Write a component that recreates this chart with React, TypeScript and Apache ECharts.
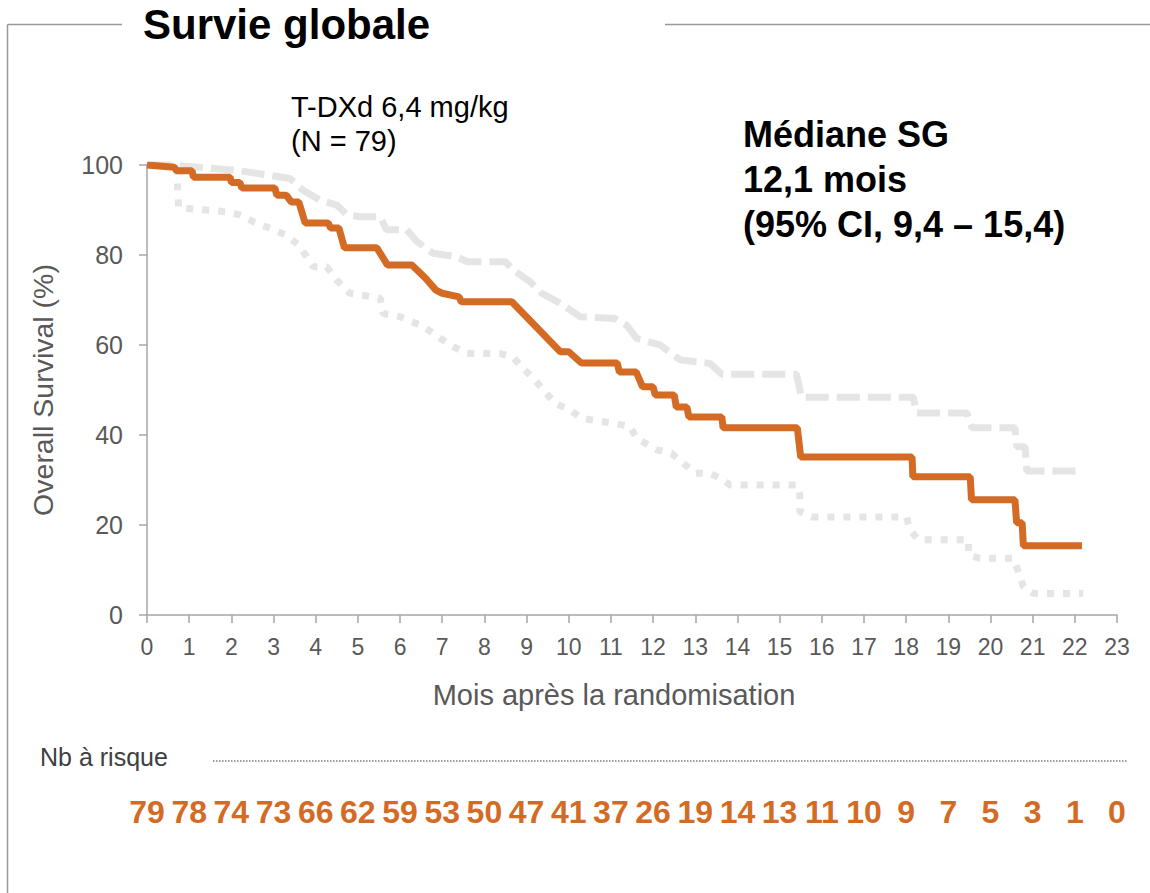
import React, { useEffect, useRef } from "react";
import * as echarts from "echarts";

const months = [0, 1, 2, 3, 4, 5, 6, 7, 8, 9, 10, 11, 12, 13, 14, 15, 16, 17, 18, 19, 20, 21, 22, 23];
const atRisk = [79, 78, 74, 73, 66, 62, 59, 53, 50, 47, 41, 37, 26, 19, 14, 13, 11, 10, 9, 7, 5, 3, 1, 0];
const yTicks = [0, 20, 40, 60, 80, 100];

const osCurve: [number, number][] = [
  [0, 100], [0.65, 99.5], [0.7, 98.7], [1.07, 98.7], [1.1, 97.3], [1.97, 97.3], [2.0, 96.1],
  [2.2, 96.1], [2.25, 94.9], [3.03, 94.9], [3.08, 93.3], [3.3, 93.3], [3.42, 91.8],
  [3.6, 91.8], [3.75, 87.1], [4.3, 87.1], [4.35, 86], [4.55, 86], [4.68, 81.6],
  [5.45, 81.6], [5.7, 77.8], [6.28, 77.8], [6.6, 74.9], [6.85, 72.2], [7.0, 71.5],
  [7.4, 70.7], [7.45, 69.6], [8.65, 69.6], [9.8, 58.5], [10.0, 58.5], [10.3, 56],
  [11.15, 56], [11.2, 54], [11.6, 54], [11.75, 50.7], [12.0, 50.7], [12.05, 48.9],
  [12.5, 48.9], [12.55, 46.2], [12.8, 46.2], [12.85, 44], [13.63, 44], [13.66, 41.6],
  [15.42, 41.6], [15.5, 35.1], [18.14, 35.1], [18.16, 30.7], [19.52, 30.7], [19.55, 25.6],
  [20.58, 25.6], [20.62, 20.5], [20.75, 20.5], [20.78, 15.4], [22.17, 15.4],
];

const upperCI: [number, number][] = [
  [0.05, 100.6], [0.62, 100], [0.85, 99.8], [1.49, 99.3], [2.2, 98.7], [2.84, 97.8],
  [3.39, 97], [3.7, 94.4], [4.1, 92.2], [4.5, 91.1], [4.74, 88.9], [5.05, 88.5],
  [5.53, 88.5], [5.68, 85.6], [6.16, 85.6], [6.4, 83], [6.78, 80.4], [7.34, 79.6],
  [7.6, 78.5], [8.5, 78.5], [8.68, 76.7], [9.08, 74.1], [9.36, 71.5], [9.79, 69.3],
  [10.03, 67.8], [10.27, 66.3], [11.1, 65.9], [11.37, 64.4], [11.61, 61.5], [12.17, 60],
  [12.64, 56.7], [13.35, 55.9], [13.63, 53.5], [15.4, 53.5], [15.52, 48.4], [18.17, 48.4],
  [18.25, 44.9], [19.44, 44.9], [19.56, 41.6], [20.58, 41.6], [20.62, 37.4], [20.82, 37.4],
  [20.86, 32], [22.08, 32],
];

const lowerCI: [number, number][] = [
  [0, 100], [0.7, 100], [0.75, 90.5], [1.89, 89.6], [2.2, 88.9], [2.52, 87.4],
  [2.92, 85.9], [3.31, 84.4], [3.59, 82.2], [3.79, 79.6], [3.94, 77.4], [4.26, 77.4],
  [4.5, 74.4], [4.81, 71.5], [5.53, 70.4], [5.6, 67], [6.0, 66.3], [6.55, 64.1],
  [6.95, 61.5], [7.27, 59.6], [7.58, 58.1], [8.37, 58.1], [8.67, 57.4], [8.92, 54.8],
  [9.2, 52.2], [9.44, 49.6], [9.68, 47], [10.03, 45.6], [10.31, 43.7], [11.06, 42.6],
  [11.45, 41.9], [11.61, 39.3], [12.09, 36.7], [12.44, 35.9], [12.72, 33.7], [13.0, 31.5],
  [13.35, 31.5], [13.59, 30.4], [13.82, 28.9], [15.41, 28.9], [15.48, 26.7], [15.48, 23],
  [15.76, 21.8], [18.01, 21.8], [18.09, 18.9], [18.29, 16.7], [19.48, 16.7], [19.48, 13.3],
  [19.75, 12.6], [20.54, 12.6], [20.66, 9.6], [20.78, 6.3], [21.02, 4.8], [22.2, 4.8],
];

const FONT = "Liberation Sans, Arial, Helvetica, sans-serif";
const ORANGE = "#D46B25";
const CI_GREY = "#E5E5E5";
const AXIS_GREY = "#A6A6A6";
const TEXT_GREY = "#595959";

export default function App() {
  const ref = useRef<HTMLDivElement>(null);
  useEffect(() => {
    if (!ref.current) return;
    const chart = echarts.init(ref.current, undefined, { renderer: "svg" });
    chart.setOption({
      animation: false,
      backgroundColor: "#ffffff",
      grid: { left: 147, right: 33, top: 165, bottom: 278, containLabel: false },
      xAxis: [
        {
          type: "value",
          min: months[0],
          max: months[months.length - 1],
          interval: 1,
          axisLine: { show: true, lineStyle: { color: AXIS_GREY, width: 1.5 } },
          axisTick: { show: true, length: 8, lineStyle: { color: AXIS_GREY, width: 1.5 } },
          axisLabel: { fontSize: 23, color: TEXT_GREY, fontFamily: FONT, margin: 32, verticalAlign: "middle" },
          splitLine: { show: false },
        },
        {
          type: "value",
          min: months[0],
          max: months[months.length - 1],
          interval: 1,
          position: "bottom",
          axisLine: { show: false },
          axisTick: { show: false },
          splitLine: { show: false },
          axisLabel: {
            margin: 197,
            verticalAlign: "middle",
            fontSize: 32,
            fontWeight: "bold",
            color: ORANGE,
            fontFamily: FONT,
            showMinLabel: true,
            showMaxLabel: true,
            formatter: (v: number) => String(atRisk[Math.round(v)] ?? ""),
          },
        },
      ],
      yAxis: {
        type: "value",
        min: yTicks[0],
        max: yTicks[yTicks.length - 1],
        interval: 20,
        name: "Overall Survival (%)",
        nameLocation: "middle",
        nameGap: 90,
        nameTextStyle: { fontSize: 28.5, color: TEXT_GREY, fontFamily: FONT },
        axisLine: { show: true, lineStyle: { color: AXIS_GREY, width: 1.5 } },
        axisTick: { show: true, length: 8, lineStyle: { color: AXIS_GREY, width: 1.5 } },
        axisLabel: { fontSize: 25, color: TEXT_GREY, fontFamily: FONT, margin: 24 },
        splitLine: { show: false },
      },
      series: [
        {
          type: "line",
          name: "Upper CI",
          data: upperCI,
          showSymbol: false,
          lineStyle: { color: CI_GREY, width: 7, type: [23, 8], cap: "butt" },
          z: 1,
        },
        {
          type: "line",
          name: "Lower CI",
          data: lowerCI,
          showSymbol: false,
          lineStyle: { color: CI_GREY, width: 7, type: [7, 9], cap: "butt" },
          z: 1,
        },
        {
          type: "line",
          name: "T-DXd",
          data: osCurve,
          showSymbol: false,
          lineStyle: { color: ORANGE, width: 7 },
          z: 3,
        },
      ],
      graphic: [
        { type: "line", shape: { x1: 7.5, y1: 24.5, x2: 7.5, y2: 893 }, style: { stroke: "#999999", lineWidth: 1.5 } },
        { type: "line", shape: { x1: 7.5, y1: 24.5, x2: 122, y2: 24.5 }, style: { stroke: "#999999", lineWidth: 1.5 } },
        { type: "line", shape: { x1: 665, y1: 24.5, x2: 1150, y2: 24.5 }, style: { stroke: "#999999", lineWidth: 1.5 } },
        {
          type: "text", left: 143, top: 3,
          style: { text: "Survie globale", fontSize: 42, fontWeight: "bold", fill: "#000", fontFamily: FONT },
        },
        {
          type: "text", x: 291, y: 107,
          style: { text: "T-DXd 6,4 mg/kg", fontSize: 29, fill: "#000", fontFamily: FONT, verticalAlign: "middle" },
        },
        {
          type: "text", x: 291, y: 141,
          style: { text: "(N = 79)", fontSize: 29, fill: "#000", fontFamily: FONT, verticalAlign: "middle" },
        },
        {
          type: "text", x: 743, y: 134,
          style: { text: "Médiane SG", fontSize: 36, fontWeight: "bold", fill: "#000", fontFamily: FONT, verticalAlign: "middle" },
        },
        {
          type: "text", x: 743, y: 179,
          style: { text: "12,1 mois", fontSize: 36, fontWeight: "bold", fill: "#000", fontFamily: FONT, verticalAlign: "middle" },
        },
        {
          type: "text", x: 743, y: 224,
          style: { text: "(95% CI, 9,4 – 15,4)", fontSize: 36, fontWeight: "bold", fill: "#000", fontFamily: FONT, verticalAlign: "middle" },
        },
        {
          type: "text", x: 614, y: 695,
          style: { text: "Mois après la randomisation", fontSize: 29, fill: TEXT_GREY, fontFamily: FONT, align: "center", verticalAlign: "middle" },
        },
        {
          type: "text", x: 40, y: 757,
          style: { text: "Nb à risque", fontSize: 25, fill: "#404040", fontFamily: FONT, verticalAlign: "middle" },
        },
        {
          type: "line", shape: { x1: 213, y1: 761, x2: 1128, y2: 761 },
          style: { stroke: "#7F7F7F", lineWidth: 1.5, lineDash: [1.5, 1.5] },
        },
      ],
    });
    return () => chart.dispose();
  }, []);
  return <div ref={ref} style={{ position: "absolute", left: 0, top: 0, width: 1150, height: 893 }} />;
}
